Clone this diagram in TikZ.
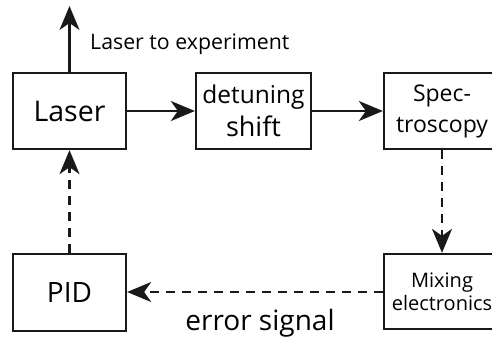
\documentclass[tikz,border=0pt]{standalone}
\usepackage{fontspec}
\setmainfont{Open Sans}
\usetikzlibrary{arrows.meta}
\begin{document}
\begin{tikzpicture}[x=1pt,y=-1pt,
  blk/.style={draw=black!90, line width=2.3pt, rectangle, inner sep=0pt, align=center},
  conn/.style={draw=black!90, line width=2.3pt, -{Stealth[length=24pt,width=20pt,inset=7pt]}},
  dconn/.style={conn, dash pattern=on 9pt off 7pt}]
\useasboundingbox (0,0) rectangle (492,338);
\clip (0,0) rectangle (492,338);
\node[blk, minimum width=113pt, minimum height=76pt, font=\fontsize{28.5}{30}\selectfont] (laser) at (69.5,111) {Laser};
\node[blk, minimum width=115pt, minimum height=76pt] (detune) at (253.5,111)
  {\fontsize{24.5}{26}\selectfont detuning\\[6pt]\fontsize{27}{30}\selectfont shift};
\node[blk, minimum width=116pt, minimum height=76pt, font=\fontsize{23}{31}\selectfont] (spec) at (442,111) {Spec-\\troscopy};
\node[blk, minimum width=113pt, minimum height=77pt, font=\fontsize{28}{30}\selectfont] (pid) at (69.5,292.5) {PID};
\node[blk, minimum width=116pt, minimum height=75pt, font=\fontsize{20}{23}\selectfont] (mix) at (442,291.5) {Mixing\\electronics};
\coordinate (out) at (69.5,6);
\node[anchor=base west, inner sep=0pt, font=\fontsize{21.3}{23}\selectfont] (outlbl) at (90,49) {Laser to experiment};
\node[anchor=base, inner sep=0pt, font=\fontsize{28}{30}\selectfont] (errlbl) at (260,330) {error signal};
\draw[conn] (laser.north) -- (out);
\draw[conn] (laser) -- (detune);
\draw[conn] (detune) -- (spec);
\draw[dconn] (spec.south) -- (mix.north);
\draw[dconn] (mix.west |- 0,292) -- (pid.east |- 0,292);
\draw[dconn] (pid.north) -- (laser.south);
\end{tikzpicture}
\end{document}
